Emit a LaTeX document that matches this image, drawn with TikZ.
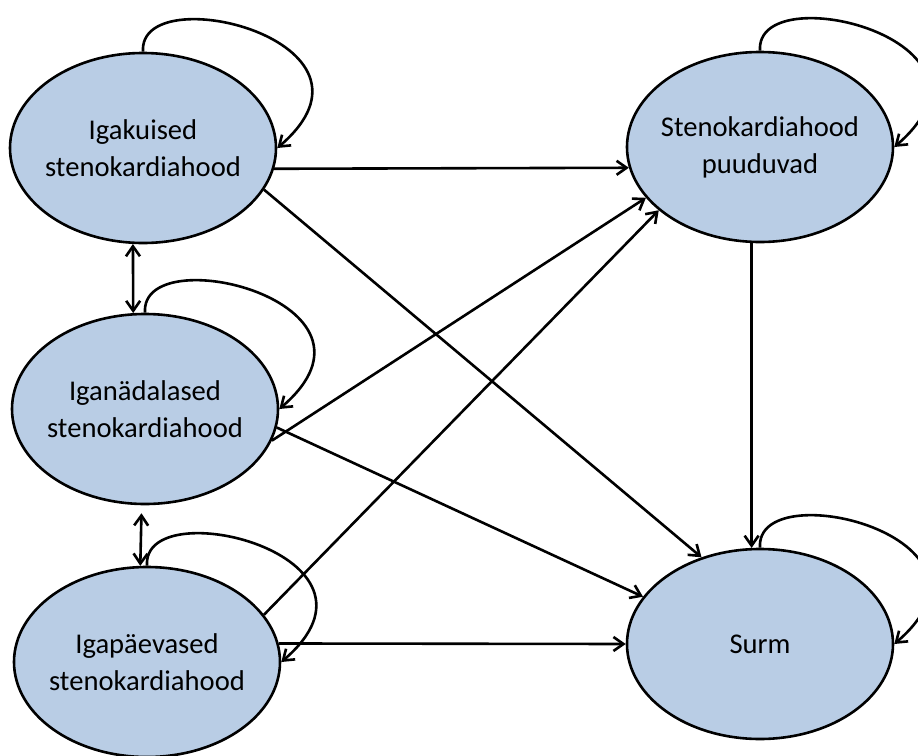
\documentclass[tikz,border=0pt]{standalone}
\usepackage{fontspec}
\setmainfont{Carlito}
\usetikzlibrary{arrows.meta,shapes.geometric}
\definecolor{stateblue}{HTML}{B9CDE5}

\begin{document}
\begin{tikzpicture}[x=.5pt,y=-.5pt,>={Straight Barb[length=5pt,width=7pt]},
    state/.style={ellipse,draw,line width=1.3pt,fill=stateblue,minimum width=133pt,
      minimum height=95pt,inner xsep=-5pt,inner ysep=0pt,align=center,
      font=\fontsize{14.3}{18.5}\selectfont},
    edge/.style={->,line width=1.3pt}]
    \useasboundingbox (0,0) rectangle (918,756);

    \node[state] (ik) at (143,148) {Igakuised\\stenokardiahood};
    \node[state] (pu) at (760,147) {Stenokardiahood\\puuduvad};
    \node[state] (in) at (145,409) {Iganädalased\\stenokardiahood};
    \node[state] (ip) at (147,662) {Igapäevased\\stenokardiahood};
    \node[state] (su) at (760,644) {Surm};

    \foreach \n in {ik,pu,in,ip,su} {
      \draw[edge] (\n.north) .. controls +(-5,-75) and +(125,-107) .. (\n.east);
    }

    \draw[edge] (ik.-9) -- (pu.189);
    \draw[edge] (ik.-19) -- (su.124);
    \draw[edge] (in.-14) -- (pu.204);
    \draw[edge] (in.-8) -- (su.158);
    \draw[edge] (ip.22) -- (pu.212);
    \draw[edge] (ip.8) -- (su.west);
    \draw[edge] (pu.-95) -- (su.95);

    \draw[edge,<->] (ik.-96) -- (in.97);
    \draw[edge,<->,shorten <=4pt] (in.-92) -- (ip.94);
  \end{tikzpicture}
\end{document}
